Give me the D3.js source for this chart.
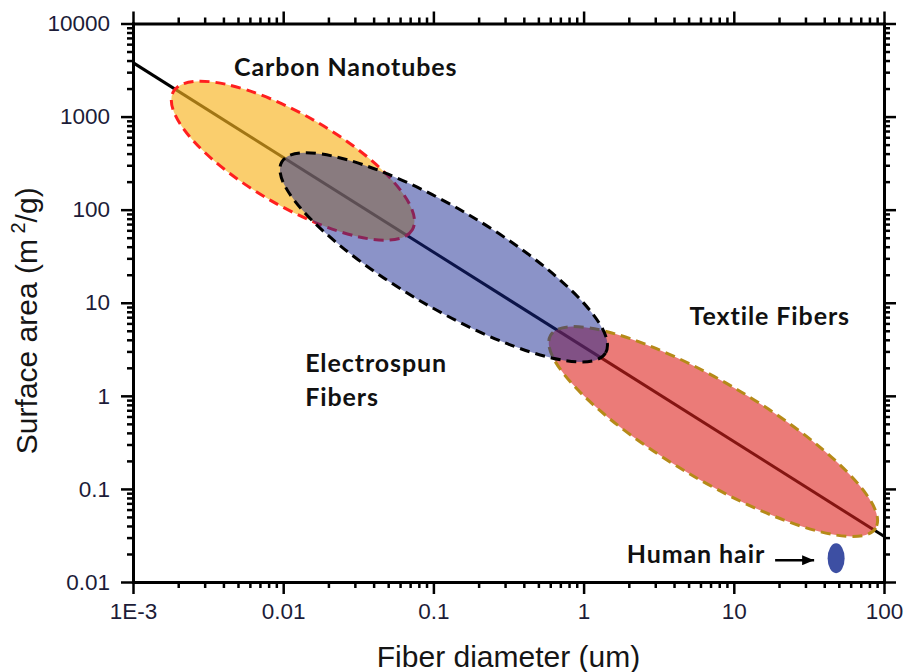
<!DOCTYPE html>
<html lang="en">
<head>
<meta charset="utf-8" />
<title>Surface area vs fiber diameter</title>
<style>
  body { margin:0; background:#fff; }
  svg  { display:block; }

  /* AXES */
  .axis path       { stroke:#000; stroke-width:3px; stroke-linecap:square; fill:none; }
  .axis line       { stroke:#000; stroke-width:2.5px; }
  .axis .tick text { font-family:"Liberation Sans",Arial,sans-serif; font-size:22.5px; fill:#1c1c38; }

  /* TEXT */
  .title { font-family:"Liberation Sans",Arial,sans-serif; font-size:30px; fill:#151515; }
  .label { font-family:Lato,"Open Sans",sans-serif; font-weight:700; font-size:25px;
           letter-spacing:0.9px; fill:#111; }
</style>
</head>
<body>
<svg width="904" height="672"></svg>

<script src="https://cdn.jsdelivr.net/npm/d3@7"></script>
<script>
/* ---------- DATA ---------- */
const xMajor  = [0.001, 0.01, 0.1, 1, 10, 100];
const xLabels = ["1E-3", "0.01", "0.1", "1", "10", "100"];
const yMajor  = [0.01, 0.1, 1, 10, 100, 1000, 10000];
const yLabels = ["0.01", "0.1", "1", "10", "100", "1000", "10000"];

// surface area ~ 1/d trend, end points (um, m2/g)
const trendDiameter = [0.001, 100];
const trendSurface  = [3800, 0.031];

// fiber classes: the two tips of each ellipse's long axis
const regionNames    = ["Carbon Nanotubes", "Textile Fibers", "Electrospun Fibers"];
const regionDiameter = [[0.00186, 0.0724], [0.603, 88.1], [0.0098, 1.40]];
const regionSurface  = [[1855, 60.8], [4.48, 0.0381], [327, 2.89]];

// human hair
const hairDiameter = 48;
const hairSurface  = 0.018;

// region labels (left / baseline anchor)
const labelLines    = [["Carbon Nanotubes"], ["Electrospun", "Fibers"], ["Textile Fibers"]];
const labelDiameter = [0.0047, 0.014, 5.08];
const labelSurface  = [2760, 1.80, 5.78];

/* ---------- STYLE ---------- */
const regionStyle = {
  "Carbon Nanotubes":   { fill:"rgb(247,180,30)", alpha:0.65, stroke:"#ff1f1f", ry:45.5 },
  "Textile Fibers":     { fill:"rgb(222,35,30)",  alpha:0.60, stroke:"#b58a18", ry:48.4 },
  "Electrospun Fibers": { fill:"rgb(23,39,145)",  alpha:0.50, stroke:"#000",    ry:49.4 }
};

/* ---------- SET-UP ---------- */
const W = 904, H = 672;
const margin = { top:23.5, right:20, bottom:90, left:133 };

const svg = d3.select("svg");

const x = d3.scaleLog().domain([0.001, 100]).range([margin.left, W - margin.right]);
const y = d3.scaleLog().domain([0.01, 10000]).range([H - margin.bottom, margin.top]);

const isMajor = v => Math.abs(Math.log10(v) - Math.round(Math.log10(v))) < 1e-6;
const xMinor = x.ticks().filter(v => !isMajor(v));
const yMinor = y.ticks().filter(v => !isMajor(v));

/* ---------- TREND LINE ---------- */
svg.append("path")
  .datum(trendDiameter.map((d, i) => [d, trendSurface[i]]))
  .attr("d", d3.line().x(d => x(d[0])).y(d => y(d[1])))
  .attr("stroke", "#000").attr("stroke-width", 3).attr("fill", "none");

/* ---------- REGIONS ---------- */
svg.append("g")
  .selectAll("ellipse")
  .data(regionNames)
  .join("ellipse")
    .each(function(name, i) {
      const x1 = x(regionDiameter[i][0]), y1 = y(regionSurface[i][0]);
      const x2 = x(regionDiameter[i][1]), y2 = y(regionSurface[i][1]);
      const cx = (x1 + x2) / 2, cy = (y1 + y2) / 2;
      const ang = Math.atan2(y2 - y1, x2 - x1) * 180 / Math.PI;
      const st = regionStyle[name];
      d3.select(this)
        .attr("cx", cx).attr("cy", cy)
        .attr("rx", Math.hypot(x2 - x1, y2 - y1) / 2)
        .attr("ry", st.ry)
        .attr("transform", `rotate(${ang} ${cx} ${cy})`)
        .attr("fill", st.fill).attr("fill-opacity", st.alpha)
        .attr("stroke", st.stroke).attr("stroke-width", 3)
        .attr("stroke-dasharray", "10 6");
    });

/* ---------- HUMAN HAIR ---------- */
const hx = x(hairDiameter), hy = y(hairSurface);
svg.append("ellipse")
  .attr("cx", hx).attr("cy", hy).attr("rx", 8.5).attr("ry", 15)
  .attr("fill", "#3d4fa3");

svg.append("defs").append("marker")
    .attr("id", "arrow").attr("viewBox", "0 0 12 10")
    .attr("refX", 12).attr("refY", 5)
    .attr("markerWidth", 12).attr("markerHeight", 10)
    .attr("markerUnits", "userSpaceOnUse").attr("orient", "auto")
  .append("path").attr("d", "M0,0L12,5L0,10Z").attr("fill", "#000");

svg.append("line")
  .attr("x1", hx - 61).attr("y1", hy + 2)
  .attr("x2", hx - 22).attr("y2", hy + 2)
  .attr("stroke", "#000").attr("stroke-width", 2.5)
  .attr("marker-end", "url(#arrow)");

svg.append("text").attr("class", "label")
  .attr("x", hx - 71).attr("y", hy + 5)
  .attr("text-anchor", "end")
  .text("Human hair");

/* ---------- REGION LABELS ---------- */
svg.append("g")
  .selectAll("text")
  .data(labelLines)
  .join("text")
    .attr("class", "label")
    .attr("x", (d, i) => x(labelDiameter[i]))
    .attr("y", (d, i) => y(labelSurface[i]))
  .selectAll("tspan")
  .data(d => d)
  .join("tspan")
    .attr("x", function() { return this.parentNode.getAttribute("x"); })
    .attr("dy", (d, j) => j ? 34 : 0)
    .text(d => d);

/* ---------- AXES ---------- */
const bottomY = H - margin.bottom, rightX = W - margin.right;

function axisPair(make, pos, labels) {
  const g = svg.append("g").attr("class", "axis").attr("transform", pos);
  g.call(make.major);
  g.append("g").call(make.minor).call(s => s.select(".domain").remove());
  if (!labels) g.selectAll(".tick text").remove();
}

axisPair({
  major: d3.axisBottom(x).tickValues(xMajor).tickFormat((d, i) => xLabels[i])
           .tickSize(12).tickSizeOuter(0).tickPadding(9),
  minor: d3.axisBottom(x).tickValues(xMinor).tickFormat("").tickSize(6).tickSizeOuter(0)
}, `translate(0,${bottomY})`, true);

axisPair({
  major: d3.axisTop(x).tickValues(xMajor).tickFormat("").tickSize(12).tickSizeOuter(0),
  minor: d3.axisTop(x).tickValues(xMinor).tickFormat("").tickSize(6).tickSizeOuter(0)
}, `translate(0,${margin.top})`, false);

axisPair({
  major: d3.axisLeft(y).tickValues(yMajor).tickFormat((d, i) => yLabels[i])
           .tickSize(12).tickSizeOuter(0).tickPadding(11),
  minor: d3.axisLeft(y).tickValues(yMinor).tickFormat("").tickSize(6).tickSizeOuter(0)
}, `translate(${margin.left},0)`, true);

axisPair({
  major: d3.axisRight(y).tickValues(yMajor).tickFormat("").tickSize(12).tickSizeOuter(0),
  minor: d3.axisRight(y).tickValues(yMinor).tickFormat("").tickSize(6).tickSizeOuter(0)
}, `translate(${rightX},0)`, false);

/* ---------- TITLES ---------- */
svg.append("text").attr("class", "title")
  .attr("x", (margin.left + rightX) / 2).attr("y", 667)
  .attr("text-anchor", "middle")
  .text("Fiber diameter (um)");

const yt = svg.append("text").attr("class", "title")
  .attr("transform", `translate(37,${(margin.top + bottomY) / 2 + 18}) rotate(-90)`)
  .attr("text-anchor", "middle");
yt.append("tspan").text("Surface area (m");
yt.append("tspan").attr("dy", -12).attr("font-size", 20).text(" 2");
yt.append("tspan").attr("dy", 12).text("/g)");
</script>
</body>
</html>
